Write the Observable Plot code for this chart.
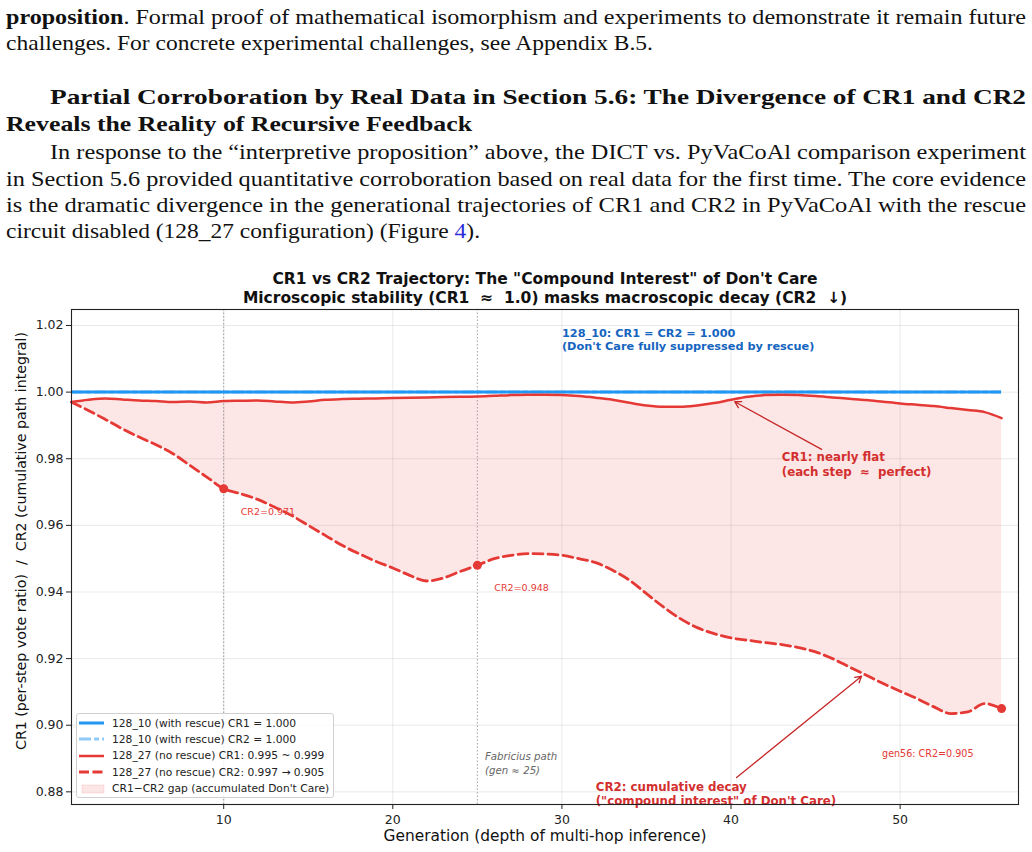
<!DOCTYPE html>
<html>
<head>
<meta charset="utf-8">
<script src="https://cdn.jsdelivr.net/npm/d3@7"></script>
<script src="https://cdn.jsdelivr.net/npm/@observablehq/plot@0.6"></script>
<style>
  html, body { margin: 0; padding: 0; background: #fff; }
  #page { position: relative; width: 1032px; height: 852px; overflow: hidden; }
  .tl { position: absolute; left: 6px; font-family: "Liberation Serif", "Times New Roman", serif;
        font-size: 21.5px; line-height: 26px; color: #111; white-space: nowrap; transform-origin: 0 50%; }
  .ind { left: 50px; }
  .bold { font-weight: bold; }
  .ref { color: #2b2bd9; }
  #chart { position: absolute; left: 0; top: 260px; }
  #chart svg text { white-space: pre; }
  #legend { position: absolute; left: 76px; top: 713px; width: 258px; height: 85px; box-sizing: border-box;
            background: rgba(255,255,255,0.82); border: 1px solid #d0d0d0; border-radius: 3px; }
  #legend .row { position: absolute; left: 0; height: 14px; display: flex; align-items: center;
                 font-family: "DejaVu Sans", sans-serif; font-size: 10.7px; color: #222; white-space: nowrap; }
  #legend svg { margin-left: 1px; margin-right: 7px; }
</style>
</head>
<body>
<div id="page">
  <div class="tl" data-w="1020" style="top:4px"><span class="bold">proposition</span>. Formal proof of mathematical isomorphism and experiments to demonstrate it remain future</div>
  <div class="tl" data-w="647" style="top:30px">challenges. For concrete experimental challenges, see Appendix B.5.</div>
  <div class="tl ind bold" data-w="976" style="top:84px">Partial Corroboration by Real Data in Section 5.6: The Divergence of CR1 and CR2</div>
  <div class="tl bold" data-w="466" style="top:111px">Reveals the Reality of Recursive Feedback</div>
  <div class="tl ind" data-w="976" style="top:139px">In response to the “interpretive proposition” above, the DICT vs. PyVaCoAl comparison experiment</div>
  <div class="tl" data-w="1020" style="top:166px">in Section 5.6 provided quantitative corroboration based on real data for the first time. The core evidence</div>
  <div class="tl" data-w="1020" style="top:192px">is the dramatic divergence in the generational trajectories of CR1 and CR2 in PyVaCoAl with the rescue</div>
  <div class="tl" data-w="474" style="top:218px">circuit disabled (128_27 configuration) (Figure <span class="ref">4</span>).</div>
  <div id="chart"></div>
  <div id="legend"></div>
</div>
<script>
// Generation index (depth of multi-hop inference)
const gens = d3.range(1, 57);

// 128_27 (no rescue): CR1 = per-step vote ratio
const cr1 = [
  0.9970, 0.9977, 0.9981, 0.9978, 0.9975, 0.9973, 0.9970, 0.9972, 0.9969, 0.9973,
  0.9974, 0.9975, 0.9972, 0.9969, 0.9972, 0.9977, 0.9979, 0.9980, 0.9981, 0.9982,
  0.9983, 0.9984, 0.9985, 0.9986, 0.9987, 0.9989, 0.9991, 0.9992, 0.9992, 0.9991,
  0.9988, 0.9983, 0.9977, 0.9968, 0.9960, 0.9956, 0.9956, 0.9960, 0.9967, 0.9977,
  0.9986, 0.9991, 0.9992, 0.9991, 0.9988, 0.9984, 0.9980, 0.9976, 0.9971, 0.9966,
  0.9962, 0.9958, 0.9952, 0.9946, 0.9940, 0.9922
];

// 128_27 (no rescue): CR2 = cumulative path integral
const cr2 = [
  0.9970, 0.9945, 0.9918, 0.9890, 0.9865, 0.9842, 0.9815, 0.9780, 0.9745, 0.9710,
  0.9695, 0.9678, 0.9655, 0.9630, 0.9600, 0.9570, 0.9540, 0.9515, 0.9492, 0.9472,
  0.9450, 0.9433, 0.9442, 0.9462, 0.9480, 0.9500, 0.9510, 0.9515, 0.9514, 0.9510,
  0.9500, 0.9488, 0.9465, 0.9435, 0.9395, 0.9355, 0.9320, 0.9293, 0.9275, 0.9262,
  0.9255, 0.9248, 0.9242, 0.9233, 0.9220, 0.9200, 0.9175, 0.9150, 0.9125, 0.9102,
  0.9080, 0.9055, 0.9035, 0.9040, 0.9065, 0.9050
];

// 128_10 (with rescue): CR1 = CR2 at every generation
const rescueCR1 = 1.000;
const rescueCR2 = 1.000;

const yTicks = [0.88, 0.90, 0.92, 0.94, 0.96, 0.98, 1.00, 1.02];
const xTicks = [10, 20, 30, 40, 50];
const referenceGens = [10, 25];          // dotted guides (gen 25 = Fabricius path)
const highlightGens = [10, 25, 56];      // CR2 checkpoints

const rows = gens.map((g, i) => ({gen: g, cr1: cr1[i], cr2: cr2[i]}));
const checkpoints = highlightGens.map(g => rows.find(r => r.gen === g));

const red = "#e53935", redText = "#d32f2f", redArrow = "#c62828";
const blue = "#2196f3", lightBlue = "#90caf9", noteBlue = "#1565c0";
const fmt3 = d3.format(".3f");

const chart = Plot.plot({
  width: 1032,
  height: 592,
  marginTop: 49,
  marginBottom: 48,
  marginLeft: 71,
  marginRight: 14,
  style: {fontFamily: "DejaVu Sans, sans-serif", fontSize: "12.5px", color: "#222", background: "none", overflow: "visible"},
  x: {domain: [1, 57]},
  y: {domain: [0.8762, 1.0248]},
  marks: [
    Plot.gridY(yTicks, {stroke: "#b8b8b8", strokeOpacity: 0.35, strokeWidth: 0.9}),
    Plot.gridX(xTicks, {stroke: "#b8b8b8", strokeOpacity: 0.35, strokeWidth: 0.9}),
    // accumulated Don't Care: gap between CR1 and CR2
    Plot.areaY(rows, {x: "gen", y1: "cr2", y2: "cr1", fill: red, fillOpacity: 0.12, curve: "monotone-x"}),
    Plot.ruleX(referenceGens, {stroke: "#8a8a8a", strokeWidth: 0.8, strokeDasharray: "1.5,2"}),
    // with rescue: both ratios pinned at 1.000
    Plot.ruleY([rescueCR2], {x1: 1, x2: 56, stroke: lightBlue, strokeWidth: 3, strokeDasharray: "12,3,5,3"}),
    Plot.ruleY([rescueCR1], {x1: 1, x2: 56, stroke: blue, strokeWidth: 3}),
    // without rescue
    Plot.line(rows, {x: "gen", y: "cr1", stroke: red, strokeWidth: 2.5, curve: "monotone-x"}),
    Plot.line(rows, {x: "gen", y: "cr2", stroke: red, strokeWidth: 2.8, strokeDasharray: "10,5", curve: "monotone-x"}),
    Plot.dot(checkpoints, {x: "gen", y: "cr2", r: 4.5, fill: red}),
    Plot.text(checkpoints.slice(0, 2), {
      x: "gen", y: "cr2", text: d => `CR2=${fmt3(d.cr2)}`, dx: 17, dy: 23,
      textAnchor: "start", fill: red, fontSize: 9.5
    }),
    Plot.text(checkpoints.slice(2), {
      x: "gen", y: "cr2", text: d => `gen${d.gen}: CR2=${fmt3(d.cr2)}`, dx: -28, dy: 45,
      textAnchor: "end", fill: red, fontSize: 9.6
    }),
    // annotations
    Plot.text([`128_10: CR1 = CR2 = ${fmt3(rescueCR1)}\n(Don't Care fully suppressed by rescue)`], {
      x: 30, y: 1.0159, textAnchor: "start", lineHeight: 1.15, fill: noteBlue, fontWeight: "bold", fontSize: 11.3
    }),
    Plot.arrow([0], {x1: 45.36, y1: 0.9828, x2: 40.22, y2: 0.9971, stroke: redArrow, strokeWidth: 1.3, headLength: 8}),
    Plot.text(["CR1: nearly flat\n(each step  \u2248  perfect)"], {
      x: 43, y: 0.97856, textAnchor: "start", lineHeight: 1.25, fill: redText, fontWeight: "bold", fontSize: 11.8
    }),
    Plot.arrow([0], {x1: 40.33, y1: 0.8843, x2: 47.72, y2: 0.9147, stroke: redArrow, strokeWidth: 1.3, headLength: 8}),
    Plot.text(["CR2: cumulative decay\n(\"compound interest\" of Don't Care)"], {
      x: 32, y: 0.8794, textAnchor: "start", lineHeight: 1.2, fill: redText, fontWeight: "bold", fontSize: 11.8
    }),
    Plot.text(["Fabricius path\n(gen \u2248 25)"], {
      x: 25.45, y: 0.8888, textAnchor: "start", lineHeight: 1.35, fill: "#666", fontStyle: "italic", fontSize: 10.2
    }),
    // frame, axes and titles
    Plot.frame({stroke: "#222", strokeWidth: 1.1}),
    Plot.axisY(yTicks, {tickFormat: d => d.toFixed(2), tickSize: 5, tickPadding: 3, label: null}),
    Plot.axisX(xTicks, {tickSize: 5, tickPadding: 6, label: null}),
    Plot.text(["Generation (depth of multi-hop inference)"], {
      frameAnchor: "bottom", lineAnchor: "middle", dy: 32, fontSize: 15.4, fill: "#111"
    }),
    Plot.text(["CR1 (per-step vote ratio)  /  CR2 (cumulative path integral)"], {
      frameAnchor: "left", textAnchor: "middle", lineAnchor: "middle", rotate: -90, dx: -50, dy: -16, fontSize: 14.2, fill: "#111"
    }),
    Plot.text(["CR1 vs CR2 Trajectory: The \"Compound Interest\" of Don't Care"], {
      frameAnchor: "top", lineAnchor: "middle", dy: -30, fontSize: 15.5, fontWeight: "bold", fill: "#111"
    }),
    Plot.text(["Microscopic stability (CR1  \u2248  1.0) masks macroscopic decay (CR2  \u2193)"], {
      frameAnchor: "top", lineAnchor: "middle", dy: -11.5, fontSize: 15.5, fontWeight: "bold", fill: "#111"
    })
  ]
});
document.getElementById("chart").appendChild(chart);

// Legend
const legendEntries = [
  {kind: "line", color: blue, dash: null, width: 3, label: `128_10 (with rescue) CR1 = ${fmt3(rescueCR1)}`},
  {kind: "line", color: lightBlue, dash: "12,3,5,3", width: 3, label: `128_10 (with rescue) CR2 = ${fmt3(rescueCR2)}`},
  {kind: "line", color: red, dash: null, width: 2.5, label: "128_27 (no rescue) CR1: 0.995 ~ 0.999"},
  {kind: "line", color: red, dash: "10,3.5", width: 2.8, label: `128_27 (no rescue) CR2: ${fmt3(cr2[0])} \u2192 ${fmt3(cr2[cr2.length - 1])}`},
  {kind: "patch", color: red, label: "CR1\u2212CR2 gap (accumulated Don't Care)"}
];
const legend = document.getElementById("legend");
legendEntries.forEach((e, i) => {
  const row = document.createElement("div");
  row.className = "row";
  row.style.top = (2 + i * 16.4) + "px";
  const ns = "http://www.w3.org/2000/svg";
  const sw = document.createElementNS(ns, "svg");
  sw.setAttribute("width", 27); sw.setAttribute("height", 10);
  if (e.kind === "line") {
    const l = document.createElementNS(ns, "line");
    l.setAttribute("x1", 1); l.setAttribute("x2", 26); l.setAttribute("y1", 5); l.setAttribute("y2", 5);
    l.setAttribute("stroke", e.color); l.setAttribute("stroke-width", e.width);
    if (e.dash) l.setAttribute("stroke-dasharray", e.dash);
    sw.appendChild(l);
  } else {
    const r = document.createElementNS(ns, "rect");
    r.setAttribute("x", 4); r.setAttribute("y", 1); r.setAttribute("width", 22); r.setAttribute("height", 8);
    r.setAttribute("fill", e.color); r.setAttribute("fill-opacity", 0.12);
    r.setAttribute("stroke", e.color); r.setAttribute("stroke-opacity", 0.12);
    sw.appendChild(r);
  }
  row.appendChild(sw);
  const t = document.createElement("span");
  t.textContent = e.label;
  row.appendChild(t);
  legend.appendChild(row);
});

// Stretch each body-text line horizontally so it fills its measure
document.querySelectorAll(".tl").forEach(el => {
  const target = +el.dataset.w;
  const range = document.createRange();
  range.selectNodeContents(el);
  const natural = range.getBoundingClientRect().width;
  el.style.transform = `scaleX(${target / natural})`;
});
</script>
</body>
</html>
